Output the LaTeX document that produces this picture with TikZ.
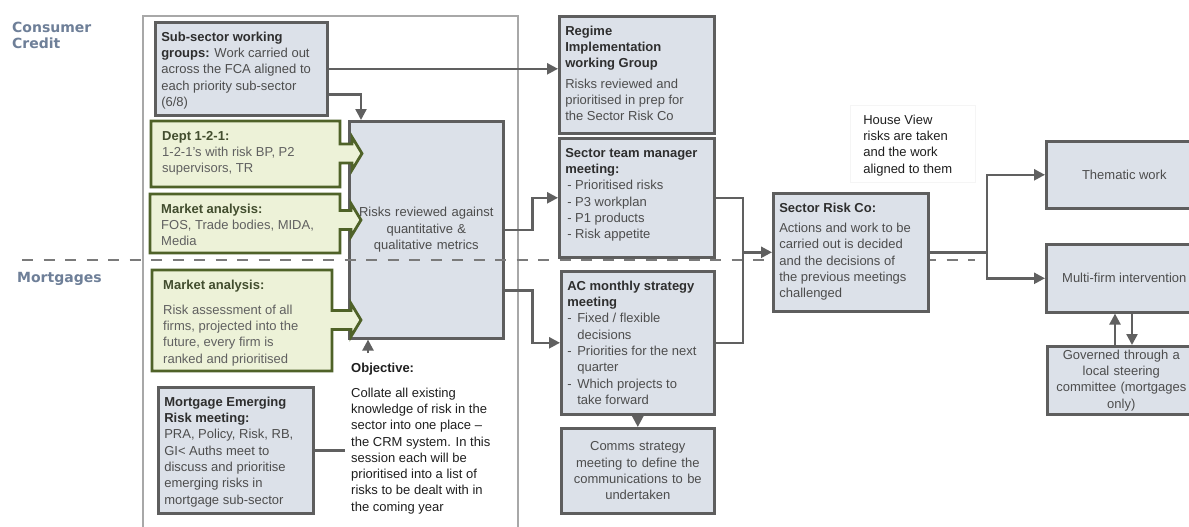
\documentclass[tikz,border=0pt]{standalone}
\usepackage{fontspec}
\setmainfont{Liberation Sans}
\newfontfamily\labfont{DejaVu Sans}
\usetikzlibrary{arrows.meta,calc}
\definecolor{boxfill}{HTML}{DCE1E9}
\definecolor{boxline}{HTML}{5E5E5E}
\definecolor{connc}{HTML}{606060}
\definecolor{dashc}{HTML}{7A7A7A}
\definecolor{outerc}{HTML}{A8A8A8}
\definecolor{gfill}{HTML}{EDF2D8}
\definecolor{gline}{HTML}{4F6228}
\definecolor{ghead}{HTML}{424D2E}
\definecolor{gbody}{HTML}{606060}
\definecolor{headc}{HTML}{2E2E2E}
\definecolor{bodyc}{HTML}{4D4D4D}
\definecolor{labc}{HTML}{6E7F98}
\newcommand\bodyfont{\fontsize{13}{16.3}\selectfont}
\newcommand\tb[3]{\parbox[c][\dimexpr#2pt-15pt\relax][t]{\dimexpr#1pt-12pt\relax}{\raggedright\strut#3}}
\newcommand\tgr[3]{\parbox[c][\dimexpr#2pt-15pt\relax][t]{\dimexpr#1pt-22pt\relax}{\raggedright\strut#3}}
\newcommand\hd[1]{\textcolor{headc}{\textbf{#1}}}
\newcommand\gh[1]{\textcolor{ghead}{\textbf{#1}}}
\newcommand\itm{\makebox[10pt][l]{-}}
\newcommand\greenarrow[6]{\draw[gshape] (#1,#2) -- (#3,#2) -- (#3,{#5-9.5}) -- ({#6-10},{#5-9.5}) -- ({#6-10},{#5-16.5}) -- (#6,#5) -- ({#6-10},{#5+16.5}) -- ({#6-10},{#5+9.5}) -- (#3,{#5+9.5}) -- (#3,#4) -- (#1,#4) -- cycle;}
\begin{document}
\begin{tikzpicture}[x=1pt,y=-1pt,
  conn/.style={draw=connc, line width=2.4pt},
  arr/.style={conn, -{Triangle[length=11pt,width=11pt]}},
  gbox/.style={draw=boxline, fill=boxfill, line width=2.6pt, inner xsep=6pt, inner ysep=7.5pt, anchor=north west, font=\bodyfont, text=bodyc},
  cbox/.style={draw=boxline, fill=boxfill, line width=2.6pt, inner sep=0pt, anchor=north west, align=center, font=\bodyfont, text=bodyc},
  gtxt/.style={inner xsep=11pt, inner ysep=7.5pt, anchor=north west, font=\bodyfont, text=gbody},
  gshape/.style={draw=gline, fill=gfill, line width=2.8pt},
  plain/.style={inner xsep=6pt, inner ysep=7.5pt, anchor=north west, font=\bodyfont, text=black!88},
  lab/.style={font=\labfont\bfseries\fontsize{14}{16}\selectfont, text=labc, inner sep=0pt, align=left},
  dashline/.style={draw=dashc, line width=2.8pt, dash pattern=on 11pt off 10.5pt},
  outer/.style={draw=outerc, line width=1.6pt}]
\useasboundingbox (0,0) rectangle (1189,527);
\clip (0,0) rectangle (1189,527);
\fill[white] (0,0) rectangle (1189,527);

% labels
\node[lab, anchor=west] (cc) at (12,35) {Consumer\\Credit};
\node[lab, anchor=base west] (mo) at (17,282) {Mortgages};

% outer frame
\draw[outer] (143,540) -- (143,16) -- (518,16) -- (518,540);

% central box
\node[cbox, minimum width=154pt, minimum height=217pt, text width=148pt] (risk) at (348,120) {Risks reviewed against\\ quantitative \&\\ qualitative metrics};

% dashed divider
\draw[dashline] (22,260) -- (975,260);

% green arrow callouts
\greenarrow{151}{121}{340}{187}{153.5}{362}
\node[gtxt] (dept) at (151,121) {\tgr{189}{66}{\gh{Dept 1-2-1:}\\ 1-2-1's with risk BP, P2\\ supervisors, TR}};
\greenarrow{150}{194}{340}{253}{220}{361}
\node[gtxt] (mcc) at (150,194) {\tgr{190}{59}{\gh{Market analysis:}\\ FOS, Trade bodies, MIDA,\\ Media}};
\greenarrow{152}{270}{332}{371}{320}{361}
\node[gtxt] (mmo) at (152,270) {\tgr{180}{101}{\gh{Market analysis:}\\[8.7pt] Risk assessment of all\\ firms, projected into the\\ future, every firm is\\ ranked and prioritised}};

% grey boxes
\node[gbox] (sub) at (154,21) {\tb{172}{93}{\hd{Sub-sector working}\\ \hd{groups:} Work carried out\\ across the FCA aligned to\\ each priority sub-sector\\ (6/8)}};
\node[gbox] (mer) at (157,386) {\tb{155}{126}{\hd{Mortgage Emerging}\\ \hd{Risk meeting:}\\ PRA, Policy, Risk, RB,\\ GI< Auths meet to\\ discuss and prioritise\\ emerging risks in\\ mortgage sub-sector}};
\node[plain] (obj) at (345,353) {\parbox[t]{150pt}{\raggedright\strut\textbf{Objective:}\\[8.7pt] Collate all existing\\ knowledge of risk in the\\ sector into one place --\\ the CRM system. In this\\ session each will be\\ prioritised into a list of\\ risks to be dealt with in\\ the coming year}};

\node[gbox] (reg) at (558,15) {\tb{155}{117}{\hd{Regime}\\ \hd{Implementation}\\ \hd{working Group}\\[4pt] Risks reviewed and\\ prioritised in prep for\\ the Sector Risk Co}};
\node[gbox] (stm) at (558,137) {\tb{155}{119}{\hd{Sector team manager}\\ \hd{meeting:}\\ \hspace*{2pt}- Prioritised risks\\ \hspace*{2pt}- P3 workplan\\ \hspace*{2pt}- P1 products\\ \hspace*{2pt}- Risk appetite}};
\node[gbox] (ac) at (560,270) {\tb{153}{143}{\hd{AC monthly strategy}\\ \hd{meeting}\\ \itm Fixed / flexible\\ \hspace*{10pt}decisions\\ \itm Priorities for the next\\ \hspace*{10pt}quarter\\ \itm Which projects to\\ \hspace*{10pt}take forward}};
\node[cbox, minimum width=153pt, minimum height=85pt, text width=147pt] (com) at (560,427) {Comms strategy\\ meeting to define the\\ communications to be\\ undertaken};

\node[gbox] (src) at (772,192) {\tb{155}{118}{\hd{Sector Risk Co:}\\[4pt] Actions and work to be\\ carried out is decided\\ and the decisions of\\ the previous meetings\\ challenged}};
\node[plain, fill=white, draw=black!4, line width=0.6pt, inner xsep=13pt] (hv) at (850,105) {\parbox[c][62pt][t]{99pt}{\raggedright\strut House View\\ risks are taken\\ and the work\\ aligned to them}};

\node[cbox, minimum width=156pt, minimum height=67pt] (them) at (1045,140) {Thematic work};
\node[cbox, minimum width=156pt, minimum height=68pt] (multi) at (1045,243) {Multi-firm intervention};
\node[cbox, minimum width=148pt, minimum height=68pt, text width=146pt] (gov) at (1046,345) {Governed through a\\ local steering\\ committee (mortgages\\ only)};

% connectors
\draw[arr] (sub.east) -- (sub.east -| reg.west);
\draw[arr] ([yshift=-25.5pt]sub.east) -| ([xshift=13pt]risk.north west);
\draw[arr] ([xshift=23pt]obj.north west) -- ([xshift=20pt]risk.south west);
\draw[conn] (mer.east) -- (mer.east -| obj.west);
\draw[arr] (risk.east) -- ++(28,0) |- (stm.west);
\draw[arr] ([yshift=-60.5pt]risk.east) -- ++(28,0) |- (ac.west);
\draw[arr] (ac.south) -- (com.north);
\coordinate (jx) at (743,0);
\coordinate (j) at (src.west -| jx);
\draw[conn] (stm.east) -| (j) |- (ac.east);
\draw[arr] (j) -- (src.west);
\coordinate (kx) at (987,0);
\coordinate (k) at (src.east -| kx);
\draw[conn] (src.east) -- (k);
\draw[arr] (k) |- (them.west);
\draw[arr] (k) |- (multi.west);
\coordinate (u) at (1115,0);
\coordinate (d) at (1132,0);
\draw[arr] (gov.north -| u) -- (multi.south -| u);
\draw[arr] (multi.south -| d) -- (gov.north -| d);
\end{tikzpicture}
\end{document}
